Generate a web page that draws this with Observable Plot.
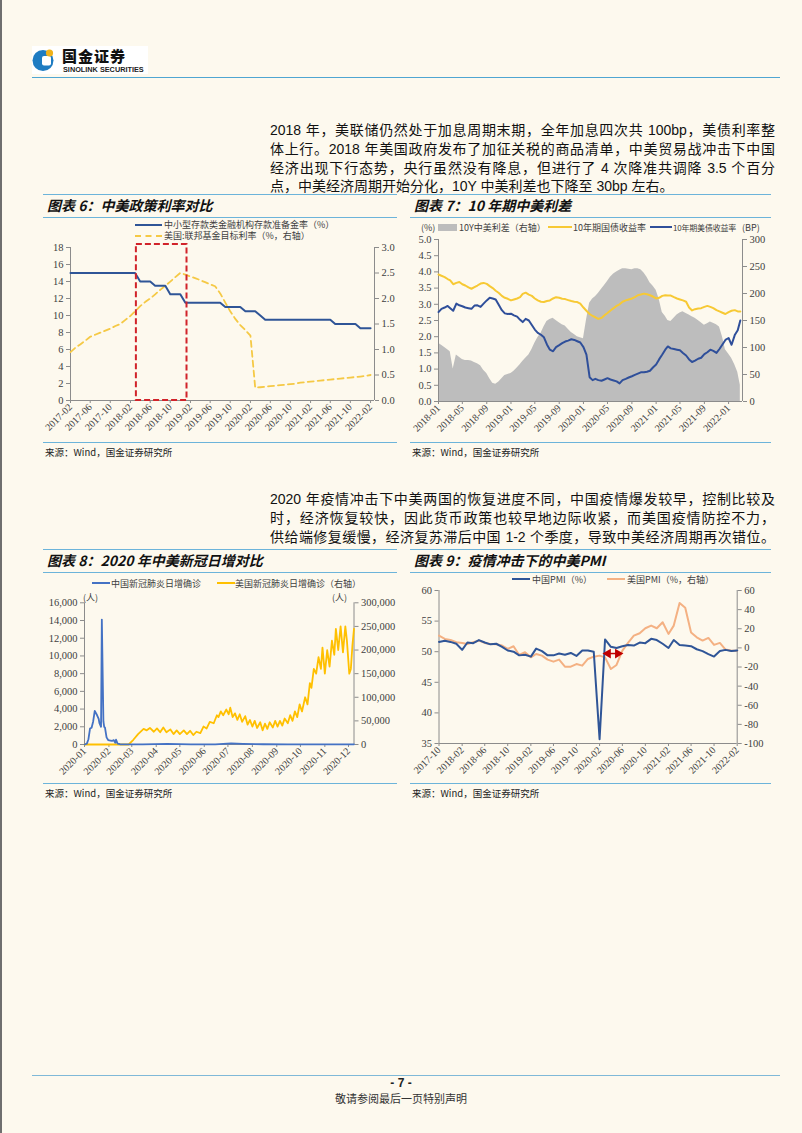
<!DOCTYPE html>
<html lang="zh"><head><meta charset="utf-8">
<script src="https://cdn.jsdelivr.net/npm/d3@7"></script>
<script src="https://cdn.jsdelivr.net/npm/@observablehq/plot@0.6"></script>
<style>
html,body{margin:0;padding:0;background:#fdf9ee;}
#page{position:relative;width:802px;height:1133px;overflow:hidden;background:#fdf9ee;font-family:"Liberation Sans","Noto Sans CJK SC",sans-serif;color:#1a1a1a;}
#page .a{position:absolute;white-space:nowrap;}
.hl{position:absolute;height:0;border-top:1.6px solid #6cb4da;}
.ttl{font-family:"Noto Sans CJK SC",sans-serif;font-weight:700;font-style:italic;font-size:14px;line-height:18px;color:#111;}
.src{font-family:"Noto Sans CJK SC","Liberation Sans",sans-serif;font-size:9.5px;line-height:12px;color:#222;}
.lg{font-family:"Noto Sans CJK SC","Liberation Serif",serif;font-size:9px;line-height:11px;color:#404040;}
.p{position:absolute;left:270px;width:505px;height:18px;font-size:14px;line-height:18px;text-align:justify;text-align-last:justify;font-family:"Liberation Sans","Noto Sans CJK SC",sans-serif;color:#111;}
.p.last{text-align-last:left;}
</style></head>
<body><div id="page"></div>
<script>
// ---------------- DATA ----------------
// Chart 6: monthly 2017-02 .. 2022-02
const rrrCN = [15,15,15,15,15,15,15,15,15,15,15,15,15,15,
  14,14,14, 13.5,13.5,13.5, 12.5,12.5,12.5,
  11.5,11.5,11.5,11.5,11.5,11.5,11.5,11.5,
  11,11,11,11, 10.5,10.5,10.5, 10,
  9.5,9.5,9.5,9.5,9.5,9.5,9.5,9.5,9.5,9.5,9.5,9.5,9.5,9.5,
  9,9,9,9,9, 8.5,8.5,8.5];
const fedUS = [0.95,1.03,1.10,1.17,1.25,1.29,1.33,1.37,1.41,1.46,
  1.50,1.58,1.66,1.75,1.85,1.93,2.00,2.08,2.17,2.25,
  2.33,2.42,2.50,2.47,2.43,2.40,2.36,2.32,2.28,2.24,
  2.10,1.92,1.75,1.60,1.48,1.38,1.27,0.25,0.26,0.27,
  0.28,0.29,0.30,0.31,0.32,0.33,0.35,0.36,0.37,0.38,
  0.39,0.40,0.41,0.42,0.43,0.44,0.45,0.46,0.47,0.48,0.50];
const xTicks6 = ["2017-02","2017-06","2017-10","2018-02","2018-06","2018-10","2019-02","2019-06","2019-10","2020-02","2020-06","2020-10","2021-02","2021-06","2021-10","2022-02"];
const highlight6 = [{start:"2018-03-09", end:"2019-01-11", top:18.35}];

// Chart 7: semi-monthly 2018-01 .. 2022-03
const cn10y = [3.92,3.88,3.84,3.78,3.74,3.62,3.66,3.69,3.62,3.58,
  3.52,3.48,3.53,3.58,3.64,3.66,3.63,3.56,3.50,3.42,
  3.35,3.26,3.20,3.17,3.12,3.15,3.18,3.22,3.32,3.36,
  3.30,3.26,3.18,3.12,3.08,3.07,3.10,3.12,3.18,3.22,
  3.20,3.17,3.16,3.13,3.10,3.08,3.07,3.02,2.90,2.80,
  2.70,2.64,2.60,2.55,2.58,2.66,2.73,2.81,2.88,2.95,
  3.00,3.08,3.12,3.15,3.18,3.22,3.28,3.30,3.33,3.31,
  3.28,3.24,3.18,3.20,3.26,3.28,3.27,3.27,3.22,3.18,
  3.15,3.12,3.08,2.90,2.81,2.85,2.87,2.88,2.92,2.95,
  2.92,2.88,2.82,2.78,2.74,2.70,2.76,2.80,2.82,2.78,2.78];
const us10y = [2.76,2.86,2.90,2.95,2.88,2.80,3.02,2.97,2.94,2.90,
  2.88,2.86,2.96,2.97,2.92,3.02,3.12,3.20,3.18,3.15,
  2.98,2.82,2.72,2.70,2.71,2.66,2.62,2.52,2.45,2.55,
  2.50,2.36,2.22,2.12,2.06,1.98,1.76,1.60,1.55,1.68,
  1.74,1.80,1.85,1.88,1.92,1.90,1.86,1.82,1.68,1.45,
  0.75,0.66,0.70,0.66,0.64,0.68,0.72,0.68,0.65,0.62,
  0.56,0.66,0.70,0.74,0.78,0.82,0.86,0.90,0.90,0.92,
  0.95,1.05,1.14,1.30,1.45,1.60,1.70,1.64,1.62,1.60,
  1.58,1.50,1.42,1.30,1.22,1.26,1.32,1.35,1.46,1.52,
  1.60,1.56,1.50,1.62,1.76,1.90,1.96,1.75,2.05,2.20,2.50];
const spreadBP = [108,104,100,96,92,60,86,82,78,76,
  76,75,72,70,66,58,52,42,34,32,
  36,42,48,50,52,56,62,68,74,80,
  86,96,108,118,126,138,148,152,154,150,
  146,142,140,134,128,124,120,118,116,150,
  182,190,194,200,208,215,222,230,236,240,
  243,246,246,245,244,246,246,244,238,230,
  220,214,206,190,165,158,150,148,154,160,
  164,166,163,160,157,154,150,146,141,144,
  147,145,142,138,120,96,88,80,68,54,30];
const xTicks7 = ["2018-01","2018-05","2018-09","2019-01","2019-05","2019-09","2020-01","2020-05","2020-09","2021-01","2021-05","2021-09","2022-01"];

// Chart 8: 2020 daily new cases
const cnCases = [["2020-01-01",0],["2020-01-04",100],["2020-01-06",600],["2020-01-08",1800],["2020-01-10",1900],["2020-01-12",2600],["2020-01-14",3800],["2020-01-17",3300],["2020-01-19",2900],["2020-01-20",2400],["2020-01-22",2000],["2020-01-23",14100],["2020-01-25",2600],["2020-01-26",2000],["2020-01-27",1900],["2020-01-29",800],["2020-01-31",500],["2020-02-03",450],["2020-02-05",400],["2020-02-07",500],["2020-02-09",200],["2020-02-10",550],["2020-02-12",100],["2020-02-15",30],["2020-02-21",20],["2020-03-15",20],["2020-04-15",60],["2020-05-15",10],["2020-06-15",20],["2020-07-05",120],["2020-07-20",80],["2020-08-15",30],["2020-09-15",15],["2020-10-15",20],["2020-11-15",15],["2020-12-08",20]];
const usCases = [["2020-01-01",0],["2020-02-26",0],["2020-03-03",10000],["2020-03-09",22000],["2020-03-16",33000],["2020-03-20",30000],["2020-03-24",35000],["2020-03-29",27000],["2020-04-02",34000],["2020-04-06",26000],["2020-04-10",36000],["2020-04-14",26000],["2020-04-19",32000],["2020-04-23",22000],["2020-04-27",30000],["2020-05-01",22000],["2020-05-06",30000],["2020-05-10",22000],["2020-05-14",29000],["2020-05-18",20000],["2020-05-22",27000],["2020-05-27",24000],["2020-05-31",38000],["2020-06-04",34000],["2020-06-08",48000],["2020-06-13",45000],["2020-06-17",62000],["2020-06-19",58000],["2020-06-22",70000],["2020-06-25",62000],["2020-06-29",74000],["2020-07-02",64000],["2020-07-04",78000],["2020-07-07",58000],["2020-07-10",66000],["2020-07-13",52000],["2020-07-16",64000],["2020-07-19",48000],["2020-07-23",60000],["2020-07-26",42000],["2020-07-29",52000],["2020-08-01",38000],["2020-08-04",50000],["2020-08-07",35000],["2020-08-11",47000],["2020-08-14",30000],["2020-08-17",44000],["2020-08-20",33000],["2020-08-23",47000],["2020-08-27",36000],["2020-08-30",50000],["2020-09-02",38000],["2020-09-05",50000],["2020-09-08",40000],["2020-09-11",55000],["2020-09-15",45000],["2020-09-18",62000],["2020-09-21",50000],["2020-09-24",70000],["2020-09-27",58000],["2020-09-30",85000],["2020-10-03",70000],["2020-10-07",100000],["2020-10-10",85000],["2020-10-13",130000],["2020-10-15",120000],["2020-10-18",160000],["2020-10-21",150000],["2020-10-24",185000],["2020-10-27",160000],["2020-10-29",205000],["2020-11-01",150000],["2020-11-04",200000],["2020-11-07",165000],["2020-11-10",220000],["2020-11-13",190000],["2020-11-15",245000],["2020-11-18",200000],["2020-11-21",250000],["2020-11-24",195000],["2020-11-27",250000],["2020-11-29",220000],["2020-12-02",150000],["2020-12-04",160000],["2020-12-06",210000],["2020-12-08",245000]];
const xTicks8 = ["2020-01","2020-02","2020-03","2020-04","2020-05","2020-06","2020-07","2020-08","2020-09","2020-10","2020-11","2020-12"];

// Chart 9: monthly 2017-10 .. 2022-02
const pmiCN = [51.6,51.8,51.6,51.3,50.3,51.5,51.4,51.9,51.5,51.2,51.3,50.8,50.2,50.0,49.4,49.5,49.2,50.5,50.1,49.4,49.4,49.7,49.5,49.8,49.3,50.2,50.2,50.0,35.7,52.0,50.8,50.6,50.9,51.1,51.0,51.5,51.4,52.1,51.9,51.3,50.6,51.9,51.1,51.0,50.9,50.4,50.1,49.6,49.2,50.1,50.3,50.1,50.2];
const pmiUS = [12.8,9.3,8.3,5.9,5.2,4.1,5.9,7.6,5.2,4.1,
  3.8,2.4,-1.1,1.7,-7.4,-4.6,-9.9,-6.4,-8.1,-12.3,
  -14.4,-12.3,-19.7,-19.7,-16.9,-18.6,-11.6,-9.2,-8.1,-9.9,
  -22.1,-17.9,-2.9,5.2,12.8,15.3,20.5,23.3,20.5,26.8,
  14.6,23.3,47,42,16,11,7.6,10.4,3.1,5.2,-1.8,-2.9,-2.9];
const xTicks9 = ["2017-10","2018-02","2018-06","2018-10","2019-02","2019-06","2019-10","2020-02","2020-06","2020-10","2021-02","2021-06","2021-10","2022-02"];
const lagArrow9 = [{from:"2020-03-01", to:"2020-05-24", y:49.7}];

// ---------------- PAGE ----------------
const page = document.getElementById("page");
function add(html){ page.insertAdjacentHTML("beforeend", html); }
function hline(x1,x2,y,color){ add(`<div class="hl" style="left:${x1}px;top:${y}px;width:${x2-x1}px;${color?`border-top-color:${color}`:""}"></div>`); }
function txt(x,y,cls,s,extra){ add(`<div class="a ${cls}" style="left:${x}px;top:${y}px;${extra||""}">${s}</div>`); }

// left edge
add(`<div class="a" style="left:0;top:0;width:2px;height:1133px;background:#6f6f6f"></div>`);
// header logo
add(`<div class="a" style="left:32px;top:46px;width:116px;height:28px;background:#fff"></div>`);
add(`<svg class="a" style="left:32px;top:47px" width="24" height="26"><circle cx="11" cy="13.5" r="10.5" fill="#1e7cc2"/><rect x="10" y="9" width="9" height="9.5" rx="2" fill="#fff"/><circle cx="17.5" cy="6" r="3.6" fill="#f0b21a"/></svg>`);
txt(62,48,"", "国金证券", `font-family:'Noto Sans CJK SC';font-weight:900;font-size:15px;line-height:16px;color:#111;letter-spacing:1px`);
txt(63,65.5,"", "SINOLINK SECURITIES", `font-family:'Liberation Sans';font-weight:700;font-size:7.3px;line-height:8px;color:#222`);
hline(32,780,77,"#4fa6d2");

// paragraph 1
const para1 = ["2018 年，美联储仍然处于加息周期末期，全年加息四次共 100bp，美债利率整",
 "体上行。2018 年美国政府发布了加征关税的商品清单，中美贸易战冲击下中国",
 "经济出现下行态势，央行虽然没有降息，但进行了 4 次降准共调降 3.5 个百分",
 "点，中美经济周期开始分化，10Y 中美利差也下降至 30bp 左右。"];
const para1Y = [121,140,158.5,177];
para1.forEach((s,i)=>add(`<div class="p${i===para1.length-1?" last":""}" style="top:${para1Y[i]}px">${s}</div>`));
const para2 = ["2020 年疫情冲击下中美两国的恢复进度不同，中国疫情爆发较早，控制比较及",
 "时，经济恢复较快，因此货币政策也较早地边际收紧，而美国疫情防控不力，",
 "供给端修复缓慢，经济复苏滞后中国 1-2 个季度，导致中美经济周期再次错位。"];
const para2Y = [490,509,528];
para2.forEach((s,i)=>add(`<div class="p" style="top:${para2Y[i]}px">${s}</div>`));

// chart frames
function frame(x1,x2,top,bottom,title){
  hline(x1,x2,top); txt(x1+4,top+1.5,"ttl",title); hline(x1,x2,top+23);
  hline(x1,x2,bottom); txt(x1+2,bottom+4,"src","来源：Wind，国金证券研究所");
}
frame(43,397,194,442,"图表 6：中美政策利率对比");
frame(410,771,194,442,"图表 7：10 年期中美利差");
frame(43,397,549,783,"图表 8：2020 年中美新冠日增对比");
frame(410,771,549,783,"图表 9：疫情冲击下的中美PMI");

// legend helpers
function lgLine(x,y,w,color,dash,width){ add(`<div class="a" style="left:${x}px;top:${y-(width||2)/2}px;width:${w}px;height:0;border-top:${width||2}px ${dash?"dashed":"solid"} ${color}"></div>`); }
function lgRect(x,y,w,h,color){ add(`<div class="a" style="left:${x}px;top:${y-h/2}px;width:${w}px;height:${h}px;background:${color}"></div>`); }
function lgText(x,y,s,extra){ txt(x,y-5.5,"lg",s,extra); }

// chart 6 legend
lgLine(135,224.5,27,"#2f5597"); lgText(164,224.5,"中小型存款类金融机构存款准备金率（%）");
lgLine(135,235.5,27,"#f5c945",true); lgText(164,235.5,"美国:联邦基金目标利率（%，右轴）");
// chart 7 legend
lgText(421,227,"(%)"); lgRect(438,227,19,7,"#bdbdbd"); lgText(459,227,"10Y中美利差（右轴）");
lgLine(548,227,24,"#f7c934"); lgText(573,227,"10年期国债收益率");
lgLine(650,227,22,"#2f4f9a"); lgText(673,227,"10年期美债收益率","font-size:8px;letter-spacing:-0.2px");
lgText(742,227,"(BP)");
// chart 8 legend
lgLine(92,583,18,"#4472c4"); lgText(111,583,"中国新冠肺炎日增确诊");
lgLine(217,583,18,"#ffc000"); lgText(235,583,"美国新冠肺炎日增确诊（右轴）");
lgText(83,597,"(人)"); lgText(332,597,"(人)");
// chart 9 legend
lgLine(512,579,18,"#2f5597"); lgText(532,579,"中国PMI（%）");
lgLine(607,579,18,"#f4b183"); lgText(627,579,"美国PMI（%，右轴）");

// footer
hline(32,780,1075,"#7fb9d8");
txt(381,1076,"", "- 7 -", `width:40px;text-align:center;font-family:'Liberation Sans';font-weight:700;font-size:12px;line-height:14px;color:#222`);
txt(326,1091,"", "敬请参阅最后一页特别声明", `width:150px;text-align:center;font-family:'Noto Sans CJK SC';font-size:11px;line-height:14px;color:#333`);

// ---------------- CHARTS ----------------
const axisGray = "#8c8c8c";
const labColor = "#404040";
const baseStyle = {background:"transparent", fontFamily:"'Liberation Serif','Noto Sans CJK SC',serif", fontSize:"10px", color:labColor, overflow:"visible"};
const D = s => new Date(s.length === 7 ? s + "-01" : s);
const fmtYM = d3.utcFormat("%Y-%m");
function mount(svg,x,y){ const d=document.createElement("div"); d.style.cssText=`position:absolute;left:${x}px;top:${y}px`; d.appendChild(svg); page.appendChild(d); }
function frameMarks(xDomain, yMin){
  return [
    Plot.ruleY([yMin],{stroke:axisGray, strokeWidth:1}),
    Plot.ruleX([xDomain[0]],{stroke:axisGray, strokeWidth:1}),
    Plot.ruleX([xDomain[1]],{stroke:axisGray, strokeWidth:1})
  ];
}
function xAxis(ticks){
  return Plot.axisX({ticks: ticks.map(D), tickFormat: fmtYM, tickRotate:-45, tickSize:3, tickPadding:2, stroke:axisGray, fill:labColor, fontSize:10, label:null});
}
function yAxes(leftTicks, leftFmt, rightTicks, toLeft, rightFmt){
  return [
    Plot.axisY({anchor:"left", ticks:leftTicks, tickFormat:leftFmt, tickSize:4, tickPadding:3, stroke:axisGray, fill:labColor, fontSize:10.5, label:null}),
    Plot.axisY({anchor:"right", ticks:rightTicks.map(toLeft), tickFormat:rightFmt, tickSize:4, tickPadding:3, stroke:axisGray, fill:labColor, fontSize:10.5, label:null})
  ];
}

// Chart 6
{
  const months = d3.utcMonth.range(D("2017-02"), D("2022-03"));
  const data = months.map((d,i)=>({date:d, rrr:rrrCN[i], fed:fedUS[i]}));
  const k = 18/3;
  const xd = [D("2017-02-01"), D("2022-02-25")];
  const svg = Plot.plot({
    width:370, height:205, marginLeft:40, marginRight:26, marginTop:7, marginBottom:45,
    style: baseStyle,
    x:{type:"utc", domain:xd, label:null},
    y:{domain:[0,18], label:null},
    marks:[
      ...frameMarks(xd, 0),
      xAxis(xTicks6),
      ...yAxes(d3.range(0,19,2), d3.format("d"), d3.range(0,3.01,0.5), v=>v*k, d=>(d/k).toFixed(1)),
      Plot.line(data,{x:"date", y:d=>d.fed*k, stroke:"#f5c945", strokeWidth:1.8, strokeDasharray:"6,4"}),
      Plot.line(data,{x:"date", y:"rrr", stroke:"#2f5597", strokeWidth:2}),
      Plot.rect(highlight6,{x1:d=>D(d.start), x2:d=>D(d.end), y1:0, y2:"top", fill:"none", stroke:"#d1232a", strokeWidth:2, strokeDasharray:"6,3"})
    ]
  });
  mount(svg,30,240);
}

// Chart 7
{
  const dates = [];
  d3.utcMonth.range(D("2018-01"), D("2022-03")).forEach(m=>{ dates.push(m); dates.push(d3.utcDay.offset(m,15)); });
  dates.push(D("2022-03-01"));
  const data = dates.map((d,i)=>({date:d, cn:cn10y[i], us:us10y[i], sp:spreadBP[i]}));
  const k = 5/300;
  const xd = [D("2018-01-01"), D("2022-03-12")];
  const svg = Plot.plot({
    width:370, height:214, marginLeft:33, marginRight:33, marginTop:7, marginBottom:45,
    style: baseStyle,
    x:{type:"utc", domain:xd, label:null},
    y:{domain:[0,5], label:null},
    marks:[
      Plot.areaY(data,{x:"date", y:d=>d.sp*k, fill:"#bdbdbd"}),
      ...frameMarks(xd, 0),
      xAxis(xTicks7),
      ...yAxes(d3.range(0,5.01,0.5), d=>d.toFixed(1), d3.range(0,301,50), v=>v*k, d=>String(Math.round(d/k))),
      Plot.line(data,{x:"date", y:"cn", stroke:"#f7c934", strokeWidth:2}),
      Plot.line(data,{x:"date", y:"us", stroke:"#2f4f9a", strokeWidth:2})
    ]
  });
  mount(svg,405,232);
}

// Chart 8
{
  const k = 16000/300000;
  const xd = [D("2020-01-01"), D("2020-12-08")];
  const svg = Plot.plot({
    width:370, height:191, marginLeft:54, marginRight:46.5, marginTop:7.3, marginBottom:42,
    style: baseStyle,
    x:{type:"utc", domain:xd, label:null},
    y:{domain:[0,16000], label:null},
    marks:[
      ...frameMarks(xd, 0),
      xAxis(xTicks8),
      ...yAxes(d3.range(0,16001,2000), d3.format(","), d3.range(0,300001,50000), v=>v*k, d=>d3.format(",")(Math.round(d/k))),
      Plot.line(usCases,{x:d=>D(d[0]), y:d=>d[1]*k, stroke:"#ffc000", strokeWidth:1.8}),
      Plot.line(cnCases,{x:d=>D(d[0]), y:d=>d[1], stroke:"#4472c4", strokeWidth:1.8})
    ]
  });
  mount(svg,30,595);
}

// Chart 9
{
  const months = d3.utcMonth.range(D("2017-10"), D("2022-03"));
  const data = months.map((d,i)=>({date:d, cn:pmiCN[i], us:pmiUS[i]}));
  const toL = v => 35 + (v + 100) * 25/160;
  const toR = l => (l - 35) * 160/25 - 100;
  const xd = [D("2017-10-01"), D("2022-02-01")];
  const svg = Plot.plot({
    width:370, height:202, marginLeft:33.5, marginRight:38.3, marginTop:7, marginBottom:42,
    style: baseStyle,
    x:{type:"utc", domain:xd, label:null},
    y:{domain:[35,60], label:null},
    marks:[
      ...frameMarks(xd, 35),
      xAxis(xTicks9),
      ...yAxes(d3.range(35,61,5), d3.format("d"), d3.range(-100,61,20), toL, d=>String(Math.round(toR(d)))),
      Plot.line(data,{x:"date", y:d=>toL(d.us), stroke:"#f4b183", strokeWidth:2}),
      Plot.line(data,{x:"date", y:"cn", stroke:"#2f5597", strokeWidth:2}),
      Plot.link(lagArrow9,{x1:d=>D(d.from), x2:d=>D(d.to), y1:"y", y2:"y", stroke:"#c00000", strokeWidth:1.5}),
      Plot.dot(lagArrow9,{x:d=>D(d.from), y:"y", symbol:"triangle", r:3.6, fill:"#c00000", rotate:-90, dx:3}),
      Plot.dot(lagArrow9,{x:d=>D(d.to), y:"y", symbol:"triangle", r:3.6, fill:"#c00000", rotate:90, dx:-3})
    ]
  });
  mount(svg,405,583);
}
</script>
</body></html>
